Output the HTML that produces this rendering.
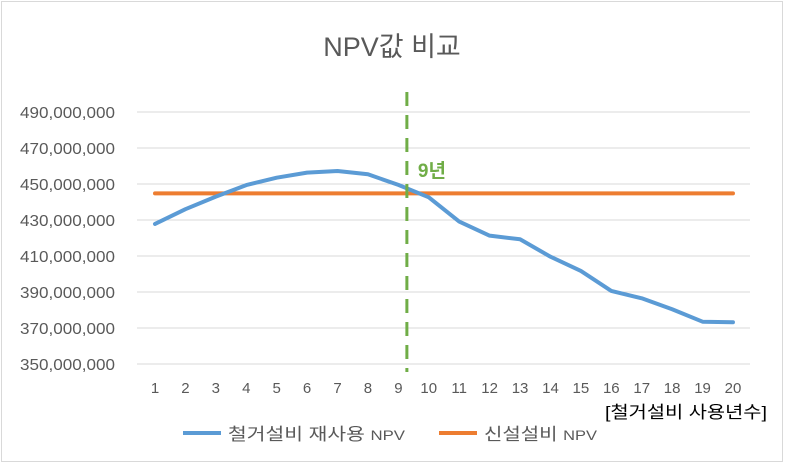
<!DOCTYPE html>
<html><head><meta charset="utf-8"><style>
body{margin:0;background:#fff;font-family:"Liberation Sans","Noto Sans CJK KR",sans-serif}
svg text{font-family:"Liberation Sans","Noto Sans CJK KR",sans-serif}
</style></head><body>
<svg width="785" height="464" viewBox="0 0 785 464">
<rect x="1.5" y="1.5" width="781" height="460" fill="#fff" stroke="#d9d9d9"/>
<text x="392" y="56" font-size="27" fill="#595959" text-anchor="middle">NPV값 비교</text>
<g id="grid"></g><g id="ylabels"></g><g id="xlabels"></g><g id="series"></g>
<text x="605" y="418" font-size="17" fill="#000" textLength="162" lengthAdjust="spacingAndGlyphs">[철거설비 사용년수]</text>
<g>
<line x1="183" y1="433" x2="221" y2="433" stroke="#5b9bd5" stroke-width="4"/>
<text x="228" y="440" font-size="17" fill="#595959" textLength="177" lengthAdjust="spacingAndGlyphs">철거설비 재사용 <tspan font-size="14">NPV</tspan></text>
<line x1="439" y1="433" x2="477" y2="433" stroke="#ed7d31" stroke-width="4"/>
<text x="484" y="440" font-size="17" fill="#595959" textLength="113" lengthAdjust="spacingAndGlyphs">신설설비 <tspan font-size="14">NPV</tspan></text>
</g>
</svg>
<script>
const categories=[1,2,3,4,5,6,7,8,9,10,11,12,13,14,15,16,17,18,19,20];
const reuseNPV=[427.8,436,443,449.4,453.5,456.3,457.2,455.4,449.5,442.6,429.1,421.3,419.3,409.6,401.7,390.6,386.5,380.4,373.5,373.2];
const newNPV=[444.8,444.8,444.8,444.8,444.8,444.8,444.8,444.8,444.8,444.8,444.8,444.8,444.8,444.8,444.8,444.8,444.8,444.8,444.8,444.8];
const yTicks=[350,370,390,410,430,450,470,490];
const yTickLabels=["350,000,000","370,000,000","390,000,000","410,000,000","430,000,000","450,000,000","470,000,000","490,000,000"];
const markerYear=9.28;
const markerLabel="9년";
const NS="http://www.w3.org/2000/svg";
const X=v=>155+(v-1)*30.42;
const Y=v=>364-(v-350)*1.8;
function mk(tag,attrs,parent){const e=document.createElementNS(NS,tag);for(const k in attrs)e.setAttribute(k,attrs[k]);parent.appendChild(e);return e;}
const grid=document.getElementById('grid'),yl=document.getElementById('ylabels'),xl=document.getElementById('xlabels'),se=document.getElementById('series');
yTicks.forEach((t,i)=>{
 const l=mk('line',{x1:137,x2:750,y1:Y(t),y2:Y(t),stroke:'#d9d9d9','stroke-width':1},grid);
 
 
 const tx=mk('text',{x:20,y:Y(t)+6,'font-size':16,fill:'#595959',textLength:95,lengthAdjust:'spacingAndGlyphs'},yl);
 tx.textContent=yTickLabels[i];
 
 
});
categories.forEach(c=>{
 const tx=mk('text',{x:X(c),y:393,'font-size':15,fill:'#595959','text-anchor':'middle'},xl);
 tx.textContent=c;
 
 
});
const p1=mk('polyline',{points:newNPV.map((v,i)=>X(categories[i])+','+Y(v)).join(' '),fill:'none',stroke:'#ed7d31','stroke-width':4,'stroke-linecap':'round'},se);


const p2=mk('polyline',{points:reuseNPV.map((v,i)=>X(categories[i])+','+Y(v)).join(' '),fill:'none',stroke:'#5b9bd5','stroke-width':4,'stroke-linecap':'round','stroke-linejoin':'round'},se);


const ml=mk('line',{x1:X(markerYear),x2:X(markerYear),y1:92,y2:372,stroke:'#70ad47','stroke-width':3,'stroke-dasharray':'14,9'},se);


const mt=mk('text',{x:X(markerYear)+11,y:177,'font-size':19,'font-weight':'bold',fill:'#70ad47'},se);
mt.textContent=markerLabel;


</script>
</body></html>
